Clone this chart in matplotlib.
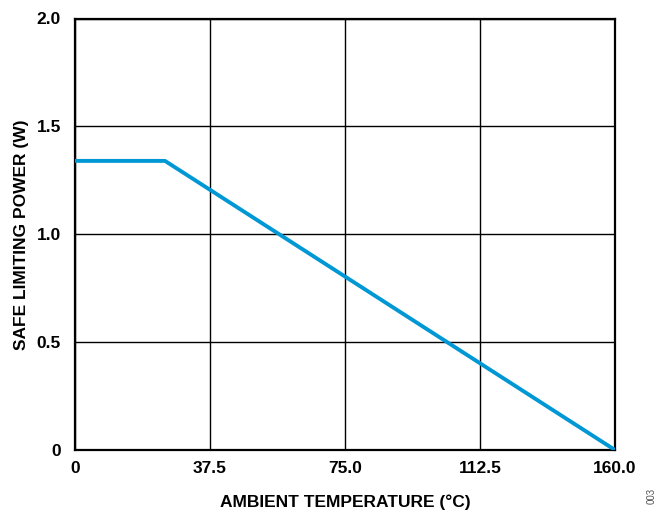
import matplotlib
matplotlib.use("Agg")
import matplotlib.pyplot as plt

temp_c = [0, 25, 150]
power_w = [1.34, 1.34, 0.0]
x_ticks = [0, 37.5, 75.0, 112.5, 150.0]
x_tick_labels = ["0", "37.5", "75.0", "112.5", "160.0"]
y_ticks = [0, 0.5, 1.0, 1.5, 2.0]
y_tick_labels = ["0", "0.5", "1.0", "1.5", "2.0"]

plt.rcParams['font.family'] = ['Liberation Sans', 'DejaVu Sans']
fig = plt.figure(figsize=(6.58, 5.12), dpi=100)
ax = fig.add_axes([75/658, 62/512, 540/658, 431.5/512])

ax.plot(temp_c, power_w, color='#0098d4', lw=2.8, solid_capstyle='butt', zorder=3)
ax.set_xlim(0, 150)
ax.set_ylim(0, 2.0)
ax.set_xticks(x_ticks)
ax.set_xticklabels(x_tick_labels, fontsize=12.5, fontweight='bold')
ax.set_yticks(y_ticks)
ax.set_yticklabels(y_tick_labels, fontsize=12.5, fontweight='bold')
ax.tick_params(length=0, pad=10)
ax.tick_params(axis='x', pad=8)
ax.grid(True, color='black', lw=1.0)
for s in ax.spines.values():
    s.set_linewidth(1.6)
    s.set_color('black')
ax.set_xlabel("AMBIENT TEMPERATURE (°C)", fontsize=12.5, fontweight='bold', labelpad=13)
ax.set_ylabel("SAFE LIMITING POWER (W)", fontsize=12.5, fontweight='bold', labelpad=5.5)
fig.text(652/658, 1 - 496/512, "003", rotation=90, fontsize=7, color='#555555', ha='center', va='center')

fig.savefig("out.png", dpi=100)
